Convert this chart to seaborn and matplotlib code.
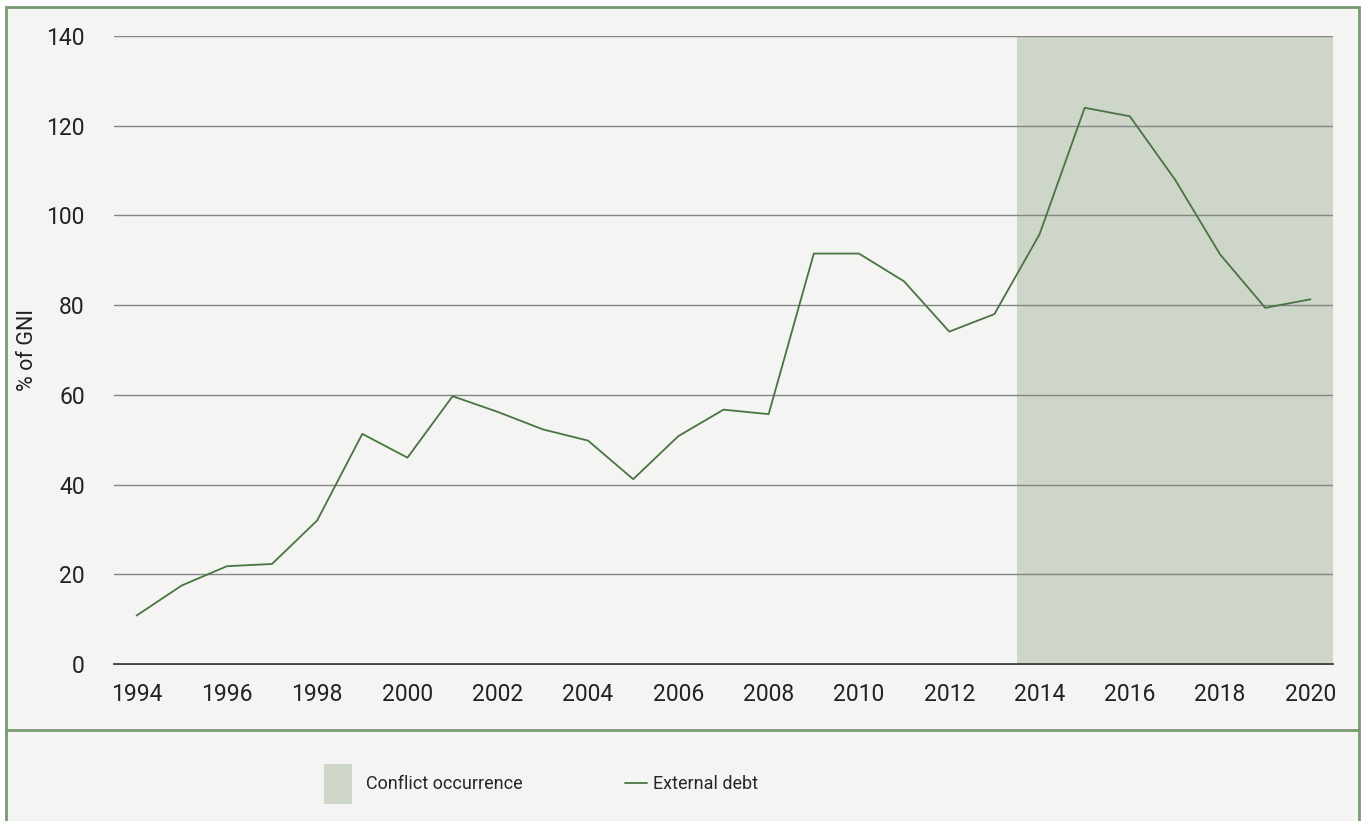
import pandas as pd
import matplotlib.pyplot as plt
import seaborn as sns
from matplotlib.patches import Rectangle, Patch
from matplotlib.lines import Line2D

########## DATA ##########
years = list(range(1994, 2021))
external_debt = [10.8, 17.5, 21.8, 22.3, 32.0, 51.3, 46.0, 59.7, 56.2, 52.3,
                 49.8, 41.2, 50.8, 56.7, 55.7, 91.5, 91.5, 85.3, 74.1, 78.0,
                 95.8, 124.0, 122.1, 108.0, 91.3, 79.4, 81.3]
conflict_start, conflict_end = 2013.5, 2020.5
y_ticks = [0, 20, 40, 60, 80, 100, 120, 140]
x_ticks = list(range(1994, 2021, 2))
##########################

bg = '#f4f4f2'
green = '#4a7343'
frame_green = '#7a9a74'
shade = '#cdd6c9'

sns.set_style("white")
plt.rcParams['font.family'] = ['Roboto', 'DejaVu Sans']

df = pd.DataFrame({'year': years, 'debt': external_debt})

fig = plt.figure(figsize=(13.63, 8.21), dpi=100, facecolor='white')
W, H = 1363, 821

# outer panel with green frame and separator above legend
fig.patches.append(Rectangle((6 / W, -0.01), (1359 - 6) / W, 1 - 7 / H + 0.01,
                             transform=fig.transFigure, facecolor=bg,
                             edgecolor=frame_green, linewidth=2, zorder=-5))
fig.lines.append(Line2D([6 / W, 1359 / W], [1 - 730 / H, 1 - 730 / H],
                        transform=fig.transFigure, color=frame_green, linewidth=2,
                        zorder=-4))

ax = fig.add_axes([114 / W, 1 - 664 / H, (1333 - 114) / W, (664 - 36) / H])
ax.set_facecolor(bg)

ax.axvspan(conflict_start, conflict_end, color=shade, zorder=0, linewidth=0)
sns.lineplot(data=df, x='year', y='debt', ax=ax, color=green, linewidth=1.3, zorder=3)

ax.set_xlim(1993.5, 2020.5)
ax.set_ylim(0, 140)
ax.set_xticks(x_ticks)
ax.set_yticks(y_ticks)
ax.yaxis.grid(True, color='#858585', linewidth=1)
ax.xaxis.grid(False)
ax.set_axisbelow(False)
for s in ['top', 'right', 'left']:
    ax.spines[s].set_visible(False)
ax.spines['bottom'].set_color('#222222')
ax.spines['bottom'].set_linewidth(1.2)
ax.spines['bottom'].set_zorder(2)
ax.tick_params(axis='both', length=0, labelsize=16.5, labelcolor='#222222')
ax.tick_params(axis='y', pad=21)
ax.tick_params(axis='x', pad=14)
ax.set_xlabel('')
ax.set_ylabel('% of GNI', fontsize=15.5, color='#222222', labelpad=6)
for gl in ax.get_ygridlines():
    gl.set_zorder(1)

# legend below the separator: two pieces so each handle gets its own size
leg1 = fig.legend(handles=[Patch(facecolor=shade, edgecolor='none', label='Conflict occurrence')],
                  loc='center left', bbox_to_anchor=(324 / W, 1 - 784 / H),
                  frameon=False, fontsize=13, borderpad=0, borderaxespad=0,
                  handlelength=1.55, handleheight=2.95, handletextpad=0.75)
leg2 = fig.legend(handles=[Line2D([0], [0], color=green, linewidth=1.3, label='External debt')],
                  loc='center left', bbox_to_anchor=(625 / W, 1 - 784 / H),
                  frameon=False, fontsize=13, borderpad=0, borderaxespad=0,
                  handlelength=1.2, handletextpad=0.35)

fig.savefig('out.png', dpi=100, facecolor='white')
